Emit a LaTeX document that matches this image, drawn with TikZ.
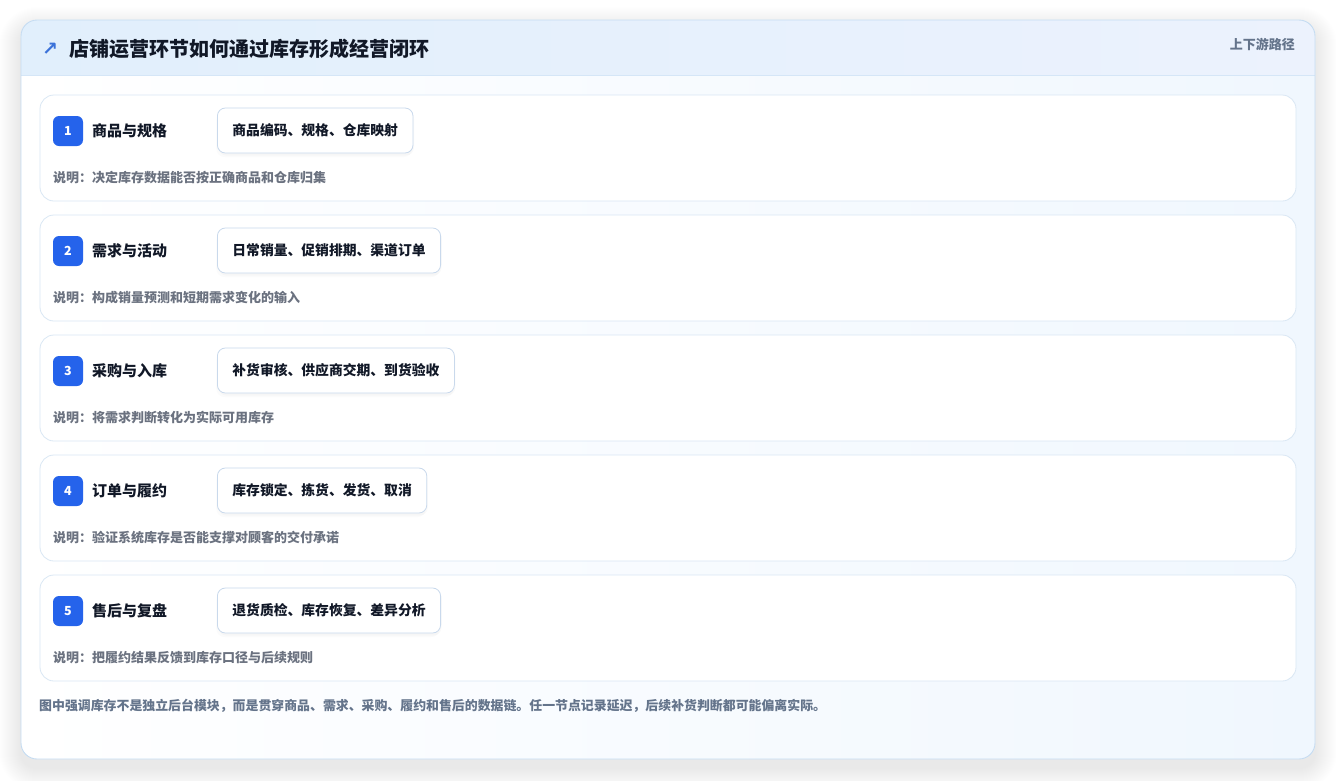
\documentclass[tikz,border=0pt]{standalone}
\usepackage{fontspec}
\setmainfont{Noto Sans CJK SC}
\newfontfamily\djv{DejaVu Sans}
\definecolor{badgeblue}{HTML}{2563EB}
\definecolor{textdark}{HTML}{111827}
\definecolor{descgray}{HTML}{6B7280}
\definecolor{subgray}{HTML}{64748B}
\definecolor{cardline}{HTML}{C5DCF2}
\definecolor{hdrline}{HTML}{D5E6F7}
\definecolor{hdrL}{HTML}{E1EFFC}
\definecolor{hdrR}{HTML}{ECF2FD}
\definecolor{bodyR}{HTML}{F0F7FE}
\definecolor{rowline}{HTML}{DAE7F4}
\definecolor{tagline}{HTML}{C9D9EC}
\definecolor{iconblue}{HTML}{3B72D9}
\tikzset{
  rowbox/.style={draw=rowline, fill=white, rounded corners=14pt, line width=0.8pt,
    minimum width=1256pt, minimum height=106pt, inner sep=0pt},
  badge/.style={fill=badgeblue, rounded corners=6pt, minimum size=30pt, inner sep=0pt,
    text=white, font=\bfseries\fontsize{12.5}{12.5}\selectfont},
  lbl/.style={anchor=west, inner sep=0pt, text=textdark, font=\bfseries\fontsize{15}{15}\selectfont},
  tag/.style={draw=tagline, fill=white, rounded corners=8pt, line width=0.8pt, minimum height=45pt,
    inner xsep=15pt, inner ysep=0pt, anchor=west, text=textdark, font=\bfseries\fontsize{13.8}{13.8}\selectfont},
  desc/.style={anchor=west, inner sep=0pt, text=descgray, font=\bfseries\fontsize{13}{13}\selectfont},
}
\begin{document}
\begin{tikzpicture}[x=1pt,y=-1pt]
\useasboundingbox (0,0) rectangle (1336,780);
% outer shadow
\foreach \k in {1,...,22}{
  \fill[black, opacity=0.0032, rounded corners=16pt+\k pt] (21-\k,20-\k+9) rectangle (1315+\k,759+\k+9);
}
% card
\path[left color=white, right color=bodyR, rounded corners=16pt] (21,20) rectangle (1315,759);
\begin{scope}
  \clip[rounded corners=16pt] (21,20) rectangle (1315,759);
  \path[left color=hdrL, right color=hdrR] (21,20) rectangle (1315,75);
\end{scope}
\draw[hdrline, line width=0.8pt] (21,75) -- (1315,75);
\draw[cardline, line width=0.9pt, rounded corners=16pt] (21,20) rectangle (1315,759);
% header texts
\node[anchor=center, inner sep=0pt, text=iconblue, font=\djv\bfseries\fontsize{19}{19}\selectfont] (icon) at (50,49) {↗};
\node[anchor=west, inner sep=0pt, text=textdark, font=\bfseries\fontsize{20}{20}\selectfont] (title) at (69,49) {店铺运营环节如何通过库存形成经营闭环};
\node[anchor=east, inner sep=0pt, text=subgray, font=\bfseries\fontsize{13}{13}\selectfont] (path) at (1295,44) {上下游路径};
% rows
\foreach \i/\lab/\tg/\ds in {
  1/商品与规格/商品编码、规格、仓库映射/说明：决定库存数据能否按正确商品和仓库归集,
  2/需求与活动/日常销量、促销排期、渠道订单/说明：构成销量预测和短期需求变化的输入,
  3/采购与入库/补货审核、供应商交期、到货验收/说明：将需求判断转化为实际可用库存,
  4/订单与履约/库存锁定、拣货、发货、取消/说明：验证系统库存是否能支撑对顾客的交付承诺,
  5/售后与复盘/退货质检、库存恢复、差异分析/说明：把履约结果反馈到库存口径与后续规则}{
  \pgfmathsetmacro{\yo}{120*(\i-1)}
  \node[rowbox] (row\i) at (668,148+\yo) {};
  \node[badge] (badge\i) at (68,131+\yo) {\i};
  \node[lbl] (lab\i) at (92,131+\yo) {\lab};
  \node[tag, draw=none, fill=black, fill opacity=0.02] at (218,133+\yo) {\phantom{\tg}};
  \node[tag, draw=none, fill=black, fill opacity=0.015] at (216,134.5+\yo) {\phantom{\tg}};
  \node[tag] (tag\i) at (217,130.5+\yo) {\tg};
  \node[desc] (desc\i) at (53,178+\yo) {\ds};
}
\node[anchor=west, inner sep=0pt, text=subgray, font=\bfseries\fontsize{12.9}{12.9}\selectfont] (foot) at (39,706)
  {图中强调库存不是独立后台模块，而是贯穿商品、需求、采购、履约和售后的数据链。任一节点记录延迟，后续补货判断都可能偏离实际。};
\end{tikzpicture}
\end{document}
